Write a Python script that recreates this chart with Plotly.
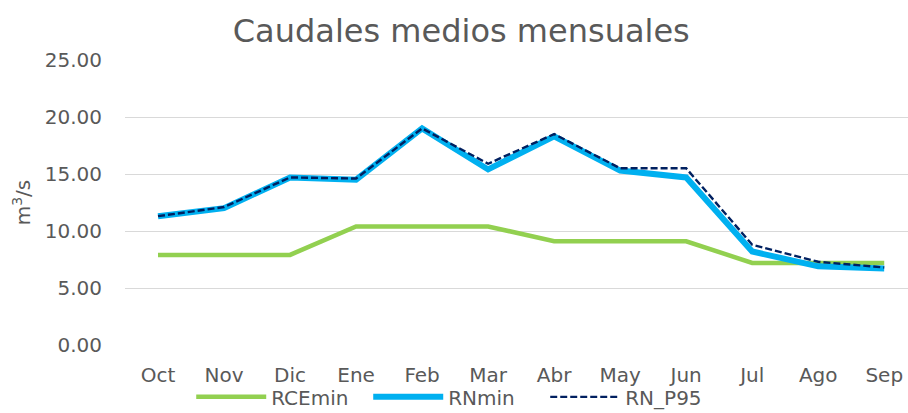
import plotly.graph_objects as go

months = ["Oct", "Nov", "Dic", "Ene", "Feb", "Mar", "Abr", "May", "Jun", "Jul", "Ago", "Sep"]
rcemin = [7.9, 7.9, 7.9, 10.4, 10.4, 10.4, 9.1, 9.1, 9.1, 7.2, 7.2, 7.2]
rnmin = [11.3, 12.0, 14.7, 14.5, 19.0, 15.4, 18.3, 15.3, 14.7, 8.2, 6.9, 6.7]
rn_p95 = [11.3, 12.1, 14.7, 14.6, 19.0, 15.9, 18.5, 15.5, 15.5, 8.8, 7.3, 6.8]
y_ticks = [0, 5, 10, 15, 20, 25]
y_labels = ["0.00", "5.00", "10.00", "15.00", "20.00", "25.00"]

FONT = "DejaVu Sans"
GREY = "#595959"

fig = go.Figure()
fig.add_trace(go.Scatter(x=months, y=rcemin, name="RCEmin", mode="lines",
                         line=dict(color="#92D050", width=4.5)))
fig.add_trace(go.Scatter(x=months, y=rnmin, name="RNmin", mode="lines",
                         line=dict(color="#00B0F0", width=6)))
fig.add_trace(go.Scatter(x=months, y=rn_p95, name="RN_P95", mode="lines",
                         line=dict(color="#002060", width=2.4, dash="7px,3px")))

fig.update_layout(
    width=908, height=413,
    margin=dict(l=125, r=0, t=60, b=68, autoexpand=False),
    paper_bgcolor="white", plot_bgcolor="white",
    font=dict(family=FONT, color=GREY, size=20),
    title=dict(text="Caudales medios mensuales", x=0.508, xanchor="center",
               y=0.925, yanchor="middle",
               font=dict(family=FONT, size=32, color=GREY)),
    showlegend=True,
    legend=dict(orientation="h", xref="container", x=0.503, xanchor="center",
                y=-0.182, yanchor="middle",
                font=dict(family=FONT, size=20, color=GREY), itemwidth=70,
                entrywidth=92, tracegroupgap=0, bgcolor="rgba(0,0,0,0)"),
    xaxis=dict(range=[-0.5, 11.36], showgrid=False, showline=False, zeroline=False,
               ticks="", tickfont=dict(size=20, color=GREY), ticklabelstandoff=16,
               automargin=False),
    yaxis=dict(range=[0, 25], tickvals=y_ticks, ticktext=y_labels,
               showgrid=True, gridcolor="#D9D9D9", gridwidth=1.3, zeroline=False,
               showline=False, ticks="", tickfont=dict(size=20, color=GREY),
               ticklabelstandoff=22, automargin=False,
               title=dict(text="m<sup>3</sup>/s", font=dict(size=20, color=GREY), standoff=8)),
)

fig.write_html("out.html", config={"displayModeBar": False},
               post_script="document.body.style.margin='0px';")
